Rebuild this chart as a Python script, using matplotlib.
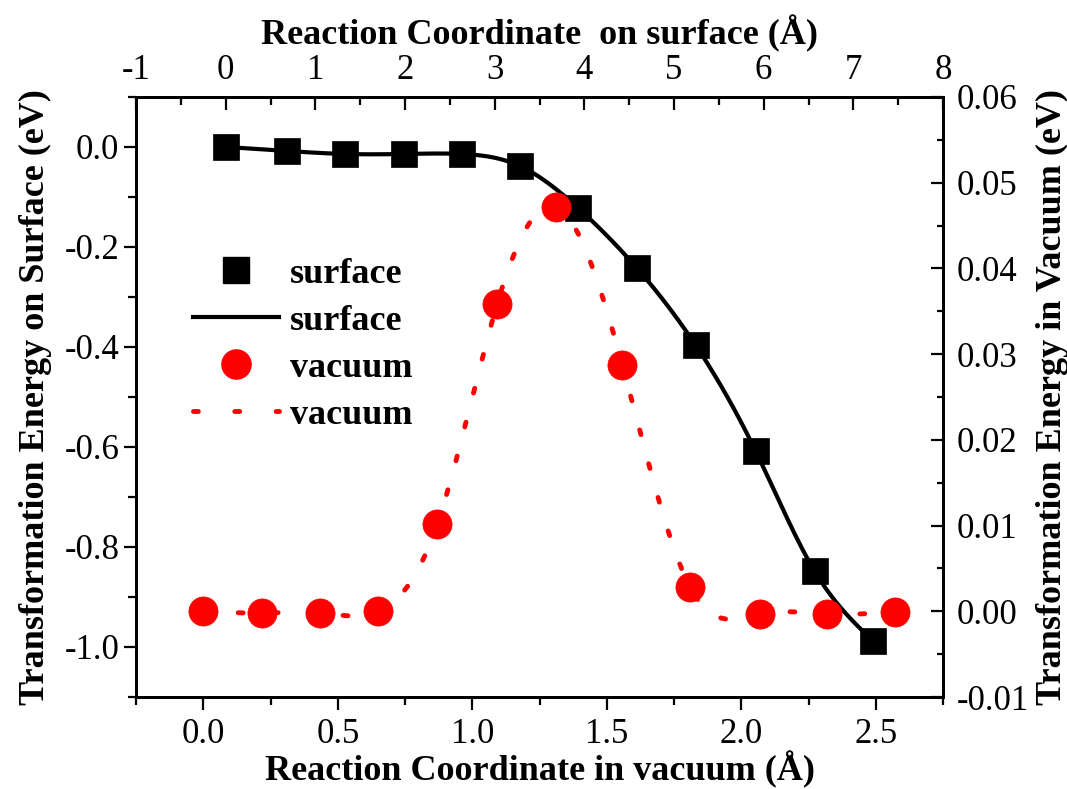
import numpy as np
import matplotlib
matplotlib.use('Agg')
import matplotlib.pyplot as plt
from matplotlib.lines import Line2D
from matplotlib.ticker import MultipleLocator, FormatStrFormatter

# surface path (top x axis, left y axis)
surface_x = [0.0, 0.68, 1.33, 1.99, 2.63, 3.28, 3.93, 4.59, 5.24, 5.91, 6.57, 7.22]
surface_y = [0.0, -0.008, -0.014, -0.014, -0.014, -0.038, -0.122, -0.243,
             -0.396, -0.608, -0.849, -0.988]

# vacuum path (bottom x axis, right y axis)
vacuum_x = [0.0, 0.219, 0.435, 0.651, 0.870, 1.093, 1.312, 1.558, 1.810, 2.071, 2.320, 2.572]
vacuum_y = [0.0, -0.0002, -0.0002, 0.0, 0.0102, 0.0359, 0.0472, 0.0287,
            0.0028, -0.0003, -0.0003, -0.0001]


def spline(x, y, n=400):
    # natural cubic spline, like Origin's "spline" connector
    x = np.asarray(x, float)
    y = np.asarray(y, float)
    h = np.diff(x)
    k = len(x)
    A = np.zeros((k, k))
    b = np.zeros(k)
    A[0, 0] = A[-1, -1] = 1
    for i in range(1, k - 1):
        A[i, i - 1] = h[i - 1]
        A[i, i] = 2 * (h[i - 1] + h[i])
        A[i, i + 1] = h[i]
        b[i] = 6 * ((y[i + 1] - y[i]) / h[i] - (y[i] - y[i - 1]) / h[i - 1])
    M = np.linalg.solve(A, b)
    xs = np.linspace(x[0], x[-1], n)
    j = np.clip(np.searchsorted(x, xs) - 1, 0, k - 2)
    t0 = x[j + 1] - xs
    t1 = xs - x[j]
    ys = (M[j] * t0 ** 3 + M[j + 1] * t1 ** 3) / (6 * h[j]) \
        + (y[j] / h[j] - M[j] * h[j] / 6) * t0 \
        + (y[j + 1] / h[j] - M[j + 1] * h[j] / 6) * t1
    return xs, ys


plt.rcParams['font.family'] = ['Liberation Serif', 'DejaVu Serif']
plt.rcParams['axes.unicode_minus'] = False
plt.rcParams['axes.linewidth'] = 2.0

fig = plt.figure(figsize=(10.67, 7.89), dpi=100)
ax = fig.add_axes([0.1275, 0.1166, 0.7563, 0.7605])
ax.set_xlim(-0.25, 2.75)
ax.set_ylim(-1.1, 0.1)
ax_top = ax.twiny()
ax_top.set_xlim(-1, 8)
ax_right = ax.twinx()
ax_right.set_ylim(-0.01, 0.06)

# surface curve
sx, sy = spline(surface_x, surface_y)
ax_top.plot(sx, sy, color='black', lw=3, solid_capstyle='round')
ax_top.plot(surface_x, surface_y, 's', color='black', ms=19, mew=0.5)

# vacuum curve
vx, vy = spline(vacuum_x, vacuum_y)
ax_right.plot(vx, vy, color='red', lw=3.5, dashes=(1.0, 6.2), dash_capstyle='round')
ax_right.plot(vacuum_x, vacuum_y, 'o', color='red', ms=21, mew=0.5)

# ticks
ax.xaxis.set_major_locator(MultipleLocator(0.5))
ax.xaxis.set_minor_locator(MultipleLocator(0.25))
ax.xaxis.set_major_formatter(FormatStrFormatter('%.1f'))
ax.yaxis.set_major_locator(MultipleLocator(0.2))
ax.yaxis.set_minor_locator(MultipleLocator(0.1))
ax.yaxis.set_major_formatter(FormatStrFormatter('%.1f'))
ax.tick_params(which='both', direction='out', labelsize=25, width=1.6,
               top=False, right=False)
ax.tick_params(which='major', length=9)
ax.tick_params(which='minor', length=5.5)
ax.tick_params(axis='x', pad=6)
ax.tick_params(axis='y', pad=3)

ax_top.xaxis.set_major_locator(MultipleLocator(1))
ax_top.xaxis.set_minor_locator(MultipleLocator(0.5))
ax_top.xaxis.set_major_formatter(FormatStrFormatter('%d'))
ax_top.tick_params(which='both', direction='in', labelsize=25, width=1.6, pad=7)
ax_top.tick_params(which='major', length=9)
ax_top.tick_params(which='minor', length=5.5)

ax_right.yaxis.set_major_locator(MultipleLocator(0.01))
ax_right.yaxis.set_minor_locator(MultipleLocator(0.005))
ax_right.yaxis.set_major_formatter(FormatStrFormatter('%.2f'))
ax_right.tick_params(which='both', direction='in', labelsize=25, width=1.6, pad=10)
ax_right.tick_params(which='major', length=9)
ax_right.tick_params(which='minor', length=4)

lab = dict(fontsize=26, fontweight='bold')
ax.set_xlabel('Reaction Coordinate in vacuum (Å)', labelpad=0, **lab)
ax.set_ylabel('Transformation Energy on Surface (eV)', labelpad=9, **lab)
ax_top.set_xlabel('Reaction Coordinate  on surface (Å)', labelpad=7, **lab)
ax_right.set_ylabel('Transformation Energy in Vacuum (eV)', labelpad=5, **lab)

handles = [
    Line2D([], [], ls='none', marker='s', color='black', ms=19),
    Line2D([], [], color='black', lw=3),
    Line2D([], [], ls='none', marker='o', color='red', ms=21),
    Line2D([], [], color='red', lw=3.5, dashes=(1.0, 7.5), dash_capstyle='round'),
]
ax_right.legend(handles, ['surface', 'surface', 'vacuum', 'vacuum'],
                loc='upper left', bbox_to_anchor=(0.07, 0.732), frameon=False,
                prop=dict(size=26, weight='bold'), borderpad=0, borderaxespad=0,
                handlelength=2.4, handletextpad=0.3, labelspacing=0.38)

fig.savefig('out.png', dpi=100)
